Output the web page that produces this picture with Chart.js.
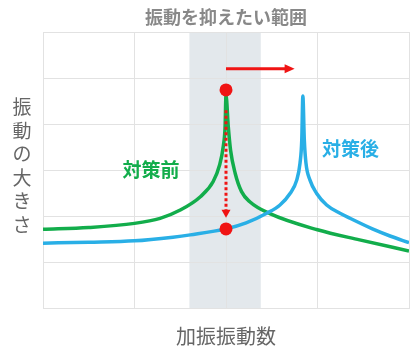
<!DOCTYPE html>
<html>
<head>
<meta charset="utf-8">
<script src="https://cdn.jsdelivr.net/npm/chart.js@4.4.0/dist/chart.umd.min.js"></script>
<style>
  html, body { margin: 0; padding: 0; background: #fff; }
  #wrap { width: 420px; height: 362px; }
</style>
</head>
<body>
<div id="wrap"><canvas id="myChart" width="420" height="362"></canvas></div>
<script>
// 対策前 (before) curve
const freqBefore = [0, 0.5, 1.0, 1.28, 1.5, 1.72, 1.86, 1.93, 1.97, 1.99, 2.0, 2.025, 2.05, 2.10, 2.17, 2.26, 2.48, 3.0, 3.46, 4.0];
const ampBefore  = [1.71, 1.75, 1.84, 1.95, 2.13, 2.42, 2.75, 3.11, 3.51, 3.94, 4.63, 3.94, 3.43, 2.93, 2.53, 2.31, 2.05, 1.70, 1.48, 1.24];

// 対策後 (after) curve
const freqAfter = [0, 0.5, 1.0, 1.42, 1.61, 2.0, 2.22, 2.445, 2.59, 2.70, 2.773, 2.809, 2.828, 2.84, 2.856, 2.874, 2.918, 2.991, 3.10, 3.246, 3.355, 3.6, 3.8, 4.0];
const ampAfter  = [1.41, 1.43, 1.46, 1.54, 1.59, 1.72, 1.85, 2.06, 2.24, 2.49, 2.78, 3.15, 3.65, 4.61, 3.65, 3.15, 2.78, 2.49, 2.24, 2.06, 1.95, 1.72, 1.56, 1.42];

// red markers
const markerX = [2.0, 2.0];
const markerY = [4.74, 1.72];

// annotations (data units)
const bandRange = [1.6, 2.38];
const shiftArrowX = [2.0, 2.75];
const shiftArrowY = 5.2;
const dropArrowY = [4.3, 1.96];
const labelText = ['対策前', '対策後'];
const labelX = [1.18, 3.36];
const labelY = [3.0, 3.47];

const titleText = '振動を抑えたい範囲';
const xTitle = '加振振動数';
const yTitle = '振動の大きさ';

const GREEN = '#12ad4b';
const BLUE = '#29afe6';
const RED = '#f01414';
const FONT = '"Noto Sans CJK JP", "Noto Sans", sans-serif';

function toPoints(xs, ys) {
    return xs.map((x, i) => ({ x: x, y: ys[i] }));
}

function arrowHead(ctx, x, y, dir, len, half) {
    ctx.beginPath();
    if (dir === 'right') {
        ctx.moveTo(x, y);
        ctx.lineTo(x - len, y - half);
        ctx.lineTo(x - len, y + half);
    } else {
        ctx.moveTo(x, y);
        ctx.lineTo(x - half, y - len);
        ctx.lineTo(x + half, y - len);
    }
    ctx.closePath();
    ctx.fill();
}

const overlay = {
    id: 'overlay',
    beforeDraw(chart) {
        const { ctx, chartArea, scales } = chart;
        const x1 = scales.x.getPixelForValue(bandRange[0]);
        const x2 = scales.x.getPixelForValue(bandRange[1]);
        ctx.save();
        ctx.fillStyle = '#e3e8ec';
        ctx.fillRect(x1, chartArea.top, x2 - x1, chartArea.bottom - chartArea.top);
        ctx.restore();
    },
    afterDatasetsDraw(chart) {
        const { ctx, scales } = chart;
        const xs = scales.x, ys = scales.y;
        ctx.save();
        ctx.strokeStyle = RED;
        ctx.fillStyle = RED;

        // horizontal shift arrow
        const ay = ys.getPixelForValue(shiftArrowY);
        const ax1 = xs.getPixelForValue(shiftArrowX[0]);
        const ax2 = xs.getPixelForValue(shiftArrowX[1]);
        ctx.lineWidth = 3;
        ctx.beginPath();
        ctx.moveTo(ax1, ay);
        ctx.lineTo(ax2 - 8, ay);
        ctx.stroke();
        arrowHead(ctx, ax2, ay, 'right', 10, 4.5);

        // dotted drop arrow
        const dx = xs.getPixelForValue(markerX[0]);
        const dy1 = ys.getPixelForValue(dropArrowY[0]);
        const dy2 = ys.getPixelForValue(dropArrowY[1]);
        ctx.lineWidth = 3;
        ctx.setLineDash([3, 2.5]);
        ctx.beginPath();
        ctx.moveTo(dx, dy1);
        ctx.lineTo(dx, dy2 - 7);
        ctx.stroke();
        ctx.setLineDash([]);
        arrowHead(ctx, dx, dy2, 'down', 8, 4.5);

        // series labels
        ctx.font = 'bold 19px ' + FONT;
        ctx.textAlign = 'center';
        ctx.textBaseline = 'middle';
        [GREEN, BLUE].forEach((c, i) => {
            ctx.fillStyle = c;
            ctx.fillText(labelText[i], xs.getPixelForValue(labelX[i]), ys.getPixelForValue(labelY[i]));
        });
        ctx.restore();
    },
    afterDraw(chart) {
        // vertical y title, one character per row
        const { ctx, chartArea } = chart;
        const chars = Array.from(yTitle);
        const step = 23.5;
        const mid = (chartArea.top + chartArea.bottom) / 2 - 4;
        const start = mid - step * (chars.length - 1) / 2;
        ctx.save();
        ctx.font = '19px ' + FONT;
        ctx.fillStyle = '#666';
        ctx.textAlign = 'center';
        ctx.textBaseline = 'middle';
        chars.forEach((ch, i) => ctx.fillText(ch, 22, start + i * step));
        ctx.restore();
    }
};

document.addEventListener('DOMContentLoaded', function () {
    const ctx = document.getElementById('myChart').getContext('2d');

    new Chart(ctx, {
        type: 'line',
        data: {
            datasets: [{
                label: 'markers',
                data: toPoints(markerX, markerY),
                showLine: false,
                pointRadius: 6.5,
                pointBackgroundColor: RED,
                pointBorderWidth: 0,
                order: 0
            }, {
                label: labelText[1],
                data: toPoints(freqAfter, ampAfter),
                borderColor: BLUE,
                borderWidth: 3.5,
                pointRadius: 0,
                cubicInterpolationMode: 'monotone',
                order: 1
            }, {
                label: labelText[0],
                data: toPoints(freqBefore, ampBefore),
                borderColor: GREEN,
                borderWidth: 3.5,
                pointRadius: 0,
                cubicInterpolationMode: 'monotone',
                order: 2
            }]
        },
        options: {
            responsive: false,
            animation: false,
            layout: { padding: { left: 43, right: 11, top: 0, bottom: 0 } },
            plugins: {
                legend: { display: false },
                tooltip: { enabled: false },
                title: {
                    display: true,
                    text: titleText,
                    fullSize: false,
                    color: '#888',
                    font: { family: FONT, size: 18, weight: 'bold', lineHeight: 1.2 },
                    padding: { top: 6, bottom: 4.4 }
                }
            },
            scales: {
                x: {
                    type: 'linear',
                    min: 0,
                    max: 4,
                    ticks: { display: false, stepSize: 1 },
                    grid: { color: '#e2e2e2', drawTicks: false },
                    border: { color: '#e2e2e2' },
                    title: {
                        display: true,
                        text: xTitle,
                        color: '#666',
                        font: { family: FONT, size: 20, lineHeight: 1.2 },
                        padding: { top: 16, bottom: 14 }
                    }
                },
                y: {
                    min: 0,
                    max: 6,
                    ticks: { display: false, stepSize: 1 },
                    grid: { color: '#e2e2e2', drawTicks: false },
                    border: { color: '#e2e2e2' }
                }
            }
        },
        plugins: [overlay]
    });
});
</script>
</body>
</html>
